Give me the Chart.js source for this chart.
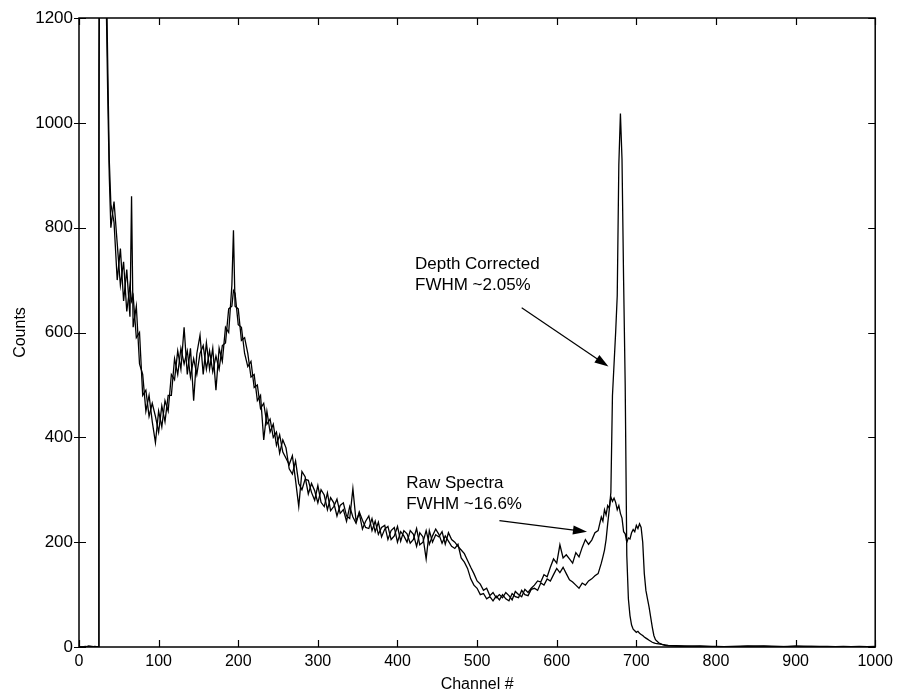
<!DOCTYPE html>
<html>
<head>
<meta charset="utf-8">
<script src="https://cdn.jsdelivr.net/npm/chart.js@4.4.1/dist/chart.umd.min.js"></script>
<style>
  html, body { margin: 0; padding: 0; background: #fff; }
</style>
</head>
<body>
<canvas id="spectrum" width="898" height="694"></canvas>
<script>
// channel numbers (x)
const channels = [
  0, 4, 8, 12, 16, 20, 24, 25, 26, 28,
  30, 32, 34, 36, 38, 40, 44, 48, 52, 56,
  60, 64, 66, 68, 72, 76, 80, 84, 88, 92,
  96, 100, 104, 108, 112, 116, 120, 124, 128, 132,
  136, 140, 144, 148, 152, 156, 160, 164, 168, 172,
  176, 180, 184, 188, 192, 194, 196, 200, 204, 208,
  212, 216, 220, 224, 228, 232, 236, 240, 244, 248,
  252, 256, 260, 264, 268, 272, 276, 280, 284, 288,
  292, 296, 300, 304, 308, 312, 316, 320, 324, 328,
  332, 336, 340, 344, 348, 352, 356, 360, 364, 368,
  372, 376, 380, 384, 388, 392, 396, 400, 404, 408,
  412, 416, 420, 424, 428, 432, 436, 440, 444, 448,
  452, 456, 460, 464, 468, 472, 476, 480, 484, 488,
  492, 496, 500, 504, 508, 512, 516, 520, 524, 528,
  532, 536, 540, 544, 548, 552, 556, 560, 564, 568,
  572, 576, 580, 584, 588, 592, 596, 600, 604, 608,
  612, 616, 620, 624, 628, 632, 636, 640, 644, 648,
  652, 656, 658, 660, 662, 664, 666, 668, 670, 672,
  674, 676, 678, 680, 682, 684, 686, 688, 690, 692,
  694, 696, 698, 700, 702, 704, 706, 708, 710, 712,
  714, 716, 718, 720, 722, 724, 728, 732, 736, 740,
  760, 780, 800, 820, 840, 860, 880, 900, 920, 940,
  960, 980, 1000
];

// raw spectra counts
const rawCounts = [
  0, 0, 0, 2, 1, 0, 0, 900, 1500, 1700,
  1620, 1480, 1320, 1120, 930, 845, 810, 700, 760, 660,
  720, 630, 860, 610, 650, 540, 520, 450, 480, 430,
  390, 450, 420, 470, 450, 520, 510, 565, 530, 610,
  520, 570, 470, 560, 595, 520, 580, 530, 570, 490,
  570, 545, 610, 600, 690, 795, 650, 645, 585, 590,
  560, 515, 520, 470, 480, 395, 450, 410, 425, 385,
  405, 372, 360, 348, 365, 318, 268, 335, 325, 292,
  312, 298, 275, 300, 290, 262, 285, 275, 250, 270,
  275, 250, 245, 302, 240, 255, 225, 240, 250, 222,
  240, 215, 228, 232, 205, 222, 228, 200, 220, 212,
  200, 222, 215, 192, 218, 210, 168, 222, 200, 214,
  210, 220, 196, 218, 205, 200, 192, 185, 178, 165,
  152, 140, 126, 120, 108, 112, 98, 104, 94, 100,
  94, 104, 98, 90, 106, 100, 96, 110, 104, 112,
  118, 126, 124, 138, 134, 152, 168, 160, 195, 170,
  176, 168, 160, 180, 172, 190, 205, 196, 204, 218,
  222, 248, 240, 262, 252, 270, 265, 286, 278, 284,
  276, 262, 270, 255, 246, 220, 216, 200, 208, 206,
  218, 224, 220, 232, 226, 235, 228, 200, 140, 108,
  92, 76, 57, 38, 22, 14, 8, 5, 3, 2,
  1, 2, 0, 1, 2, 1, 0, 2, 1, 0,
  1, 0, 1
];

// depth corrected counts
const correctedCounts = [
  0, 0, 1, 0, 0, 1, 0, 1100, 1650, 1600,
  1550, 1400, 1250, 1060, 900, 800, 850, 770, 690, 735,
  640, 690, 660, 670, 590, 600, 480, 490, 440, 465,
  440, 410, 460, 430, 480, 480, 550, 520, 570, 540,
  565, 515, 550, 520, 560, 575, 530, 565, 525, 555,
  530, 575, 580, 645, 650, 680, 675, 615, 610, 560,
  535, 545, 495, 500, 455, 465, 425, 435, 400, 410,
  370, 395, 380, 340, 330, 355, 312, 300, 320, 318,
  295, 280, 308, 276, 268, 294, 260, 268, 282, 255,
  262, 240, 268, 248, 236, 258, 242, 228, 226, 245,
  220, 238, 210, 225, 230, 205, 212, 230, 202, 222,
  216, 198, 205, 226, 195, 200, 222, 196, 212, 225,
  215, 198, 212, 202, 192, 188, 196, 170, 162, 150,
  130, 118, 112, 100, 102, 92, 96, 88, 97, 90,
  100, 92, 88, 102, 96, 94, 108, 100, 98, 110,
  112, 108, 122, 118, 130, 126, 138, 150, 142, 152,
  140, 128, 124, 118, 112, 122, 118, 126, 130, 136,
  140, 160, 172, 185, 205, 235, 262, 295, 480, 540,
  600, 670, 920, 1018, 930, 700, 500, 175, 92, 60,
  42, 34, 31, 28, 30, 26, 24, 22, 19, 17,
  15, 13, 11, 9, 8, 7, 6, 5, 4, 3,
  2, 1, 1, 0, 1, 2, 1, 0, 1, 1,
  0, 1, 0
];

const xTicks = [0, 100, 200, 300, 400, 500, 600, 700, 800, 900, 1000];
const yTicks = [0, 200, 400, 600, 800, 1000, 1200];

// text notes with arrows, in data units (channel, counts)
const notes = [
  { lines: ['Depth Corrected', 'FWHM ~2.05%'], at: [422, 721], from: [556, 647], to: [665, 535] },
  { lines: ['Raw Spectra', 'FWHM ~16.6%'], at: [411, 303], from: [528, 241], to: [638, 220] }
];

const FONT = "'Liberation Sans', Arial, Helvetica, sans-serif";
const toPoints = ys => channels.map((c, i) => ({ x: c, y: ys[i] }));

function arrow(ctx, x1, y1, x2, y2) {
  const a = Math.atan2(y2 - y1, x2 - x1);
  const len = 14, half = 4.5;
  ctx.beginPath();
  ctx.moveTo(x1, y1);
  ctx.lineTo(x2 - Math.cos(a) * len * 0.8, y2 - Math.sin(a) * len * 0.8);
  ctx.stroke();
  ctx.beginPath();
  ctx.moveTo(x2, y2);
  ctx.lineTo(x2 - Math.cos(a) * len - Math.sin(a) * half, y2 - Math.sin(a) * len + Math.cos(a) * half);
  ctx.lineTo(x2 - Math.cos(a) * len + Math.sin(a) * half, y2 - Math.sin(a) * len - Math.cos(a) * half);
  ctx.closePath();
  ctx.fill();
}

const framePlugin = {
  id: 'frame',
  afterDraw(chart) {
    const { ctx, chartArea: a, scales: { x, y } } = chart;
    ctx.save();
    ctx.strokeStyle = '#000';
    ctx.fillStyle = '#000';
    ctx.lineWidth = 1.5;
    ctx.strokeRect(a.left, a.top, a.right - a.left, a.bottom - a.top);

    // inward ticks like the original
    ctx.lineWidth = 1.2;
    ctx.beginPath();
    xTicks.forEach(v => {
      const px = Math.round(x.getPixelForValue(v)) + 0.5;
      ctx.moveTo(px, a.bottom); ctx.lineTo(px, a.bottom - 7);
      ctx.moveTo(px, a.top); ctx.lineTo(px, a.top + 7);
    });
    yTicks.forEach(v => {
      const py = Math.round(y.getPixelForValue(v)) + 0.5;
      ctx.moveTo(a.left - 5, py); ctx.lineTo(a.left + 7, py);
      ctx.moveTo(a.right, py); ctx.lineTo(a.right - 7, py);
    });
    ctx.stroke();

    // annotations
    ctx.font = '17px ' + FONT;
    ctx.textBaseline = 'alphabetic';
    ctx.textAlign = 'left';
    ctx.lineWidth = 1.2;
    notes.forEach(n => {
      const tx = x.getPixelForValue(n.at[0]);
      const ty = y.getPixelForValue(n.at[1]);
      n.lines.forEach((t, i) => ctx.fillText(t, tx, ty + i * 21));
      arrow(ctx, x.getPixelForValue(n.from[0]), y.getPixelForValue(n.from[1]),
        x.getPixelForValue(n.to[0]), y.getPixelForValue(n.to[1]));
    });
    ctx.restore();
  }
};

const lineStyle = { borderColor: '#000', borderWidth: 1.3, pointRadius: 0, tension: 0, fill: false };

new Chart(document.getElementById('spectrum').getContext('2d'), {
  type: 'line',
  data: {
    datasets: [
      { label: 'Raw Spectra', data: toPoints(rawCounts), ...lineStyle },
      { label: 'Depth Corrected', data: toPoints(correctedCounts), ...lineStyle }
    ]
  },
  options: {
    responsive: false,
    animation: false,
    events: [],
    layout: { padding: { top: 18, right: 21, left: 0, bottom: 0 } },
    plugins: { legend: { display: false }, tooltip: { enabled: false } },
    scales: {
      x: {
        type: 'linear', min: 0, max: 1000,
        afterBuildTicks: s => { s.ticks = xTicks.map(v => ({ value: v })); },
        afterFit: s => { s.height = 47; },
        grid: { display: false, drawTicks: false },
        border: { display: false },
        ticks: { color: '#000', font: { family: FONT, size: 16 }, padding: 5, maxRotation: 0, autoSkip: false,
          callback: v => String(v) },
        title: { display: true, text: 'Channel #', color: '#000', font: { family: FONT, size: 16 }, padding: { top: 1.5, bottom: 0 } }
      },
      y: {
        type: 'linear', min: 0, max: 1200,
        afterBuildTicks: s => { s.ticks = yTicks.map(v => ({ value: v })); },
        afterFit: s => { s.width = 79; },
        grid: { display: false, drawTicks: false },
        border: { display: false },
        ticks: { color: '#000', font: { family: FONT, size: 17 }, padding: 6, autoSkip: false,
          callback: v => String(v) },
        title: { display: true, text: 'Counts', color: '#000', font: { family: FONT, size: 16 }, padding: { top: 10.5, bottom: 0 } }
      }
    }
  },
  plugins: [framePlugin]
});
</script>
</body>
</html>
